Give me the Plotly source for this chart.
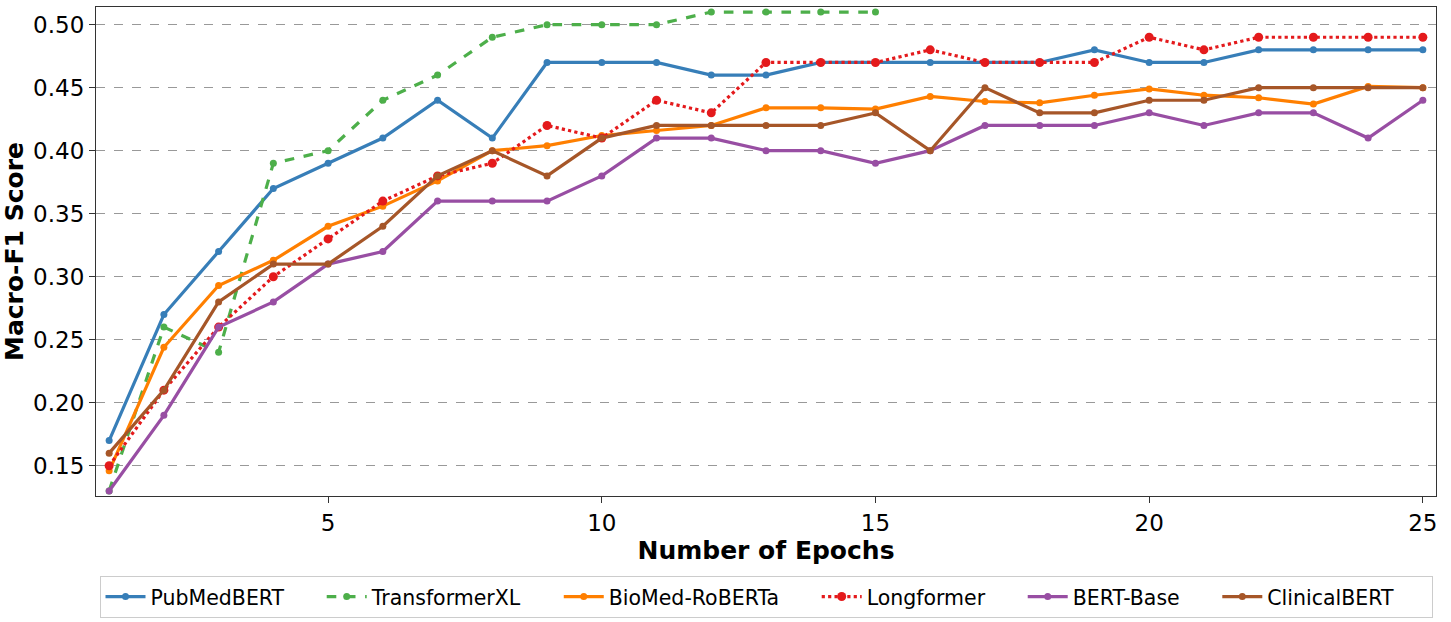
import plotly.graph_objects as go

epochs = list(range(1, 26))
pubmedbert = [0.17, 0.27, 0.32, 0.37, 0.39, 0.41, 0.44, 0.41, 0.47, 0.47, 0.47, 0.46, 0.46,
              0.47, 0.47, 0.47, 0.47, 0.47, 0.48, 0.47, 0.47, 0.48, 0.48, 0.48, 0.48]
transformerxl = [0.13, 0.26, 0.24, 0.39, 0.40, 0.44, 0.46, 0.49, 0.50, 0.50, 0.50, 0.51, 0.51,
                 0.51, 0.51]
biomed_roberta = [0.146, 0.244, 0.293, 0.313, 0.340, 0.356, 0.376, 0.400, 0.404, 0.412, 0.416,
                  0.420, 0.434, 0.434, 0.433, 0.443, 0.439, 0.438, 0.444, 0.449, 0.444, 0.442,
                  0.437, 0.451, 0.450]
longformer = [0.15, 0.21, 0.26, 0.30, 0.33, 0.36, 0.38, 0.39, 0.42, 0.41, 0.44, 0.43, 0.47,
              0.47, 0.47, 0.48, 0.47, 0.47, 0.47, 0.49, 0.48, 0.49, 0.49, 0.49, 0.49]
bert_base = [0.13, 0.19, 0.26, 0.28, 0.31, 0.32, 0.36, 0.36, 0.36, 0.38, 0.41, 0.41, 0.40,
             0.40, 0.39, 0.40, 0.42, 0.42, 0.42, 0.43, 0.42, 0.43, 0.43, 0.41, 0.44]
clinicalbert = [0.16, 0.21, 0.28, 0.31, 0.31, 0.34, 0.38, 0.40, 0.38, 0.41, 0.42, 0.42, 0.42,
                0.42, 0.43, 0.40, 0.45, 0.43, 0.43, 0.44, 0.44, 0.45, 0.45, 0.45, 0.45]

series = [
    ("PubMedBERT", pubmedbert, "#377eb8", "solid", 7),
    ("TransformerXL", transformerxl, "#4daf4a", "dash", 7),
    ("BioMed-RoBERTa", biomed_roberta, "#ff7f00", "solid", 7),
    ("Longformer", longformer, "#e41a1c", "dot", 9),
    ("BERT-Base", bert_base, "#984ea3", "solid", 7),
    ("ClinicalBERT", clinicalbert, "#a65628", "solid", 7),
]

PAD = "\u00a0" * 5
fig = go.Figure()
for name, vals, color, dash, msize in series:
    fig.add_trace(go.Scatter(
        x=epochs[:len(vals)], y=vals, name=name + PAD, mode="lines+markers",
        line=dict(color=color, width=3.2, dash=dash),
        marker=dict(color=color, size=msize, symbol="circle"),
    ))

font_family = "DejaVu Sans"
fig.update_layout(
    width=1451, height=622,
    margin=dict(l=96, r=15, t=7, b=126, autoexpand=False),
    plot_bgcolor="white", paper_bgcolor="white",
    font=dict(family=font_family, color="black"),
    showlegend=True,
    legend=dict(
        orientation="h", x=0.5, xanchor="center",
        y=-0.163, yanchor="top",
        font=dict(size=20.5, family=font_family, color="black"),
        bordercolor="#cccccc", borderwidth=1, bgcolor="white",
        itemwidth=40,
    ),
)
fig.update_xaxes(
    range=[0.76, 25.24], tickvals=[5, 10, 15, 20, 25],
    ticks="outside", ticklen=6, tickwidth=1.2, tickcolor="#333",
    tickfont=dict(size=23, family=font_family, color="black"),
    showgrid=False, zeroline=False, automargin=False,
    showline=True, linecolor="#333", linewidth=1.2, mirror=True,
    title=dict(text="<b>Number of Epochs</b>", font=dict(size=25, family=font_family, color="black"), standoff=3),
)
fig.update_yaxes(
    range=[0.126, 0.514], tickvals=[0.15, 0.20, 0.25, 0.30, 0.35, 0.40, 0.45, 0.50],
    tickformat=".2f",
    ticks="outside", ticklen=6, tickwidth=1.2, tickcolor="#333",
    tickfont=dict(size=23, family=font_family, color="black"),
    showgrid=True, gridcolor="#999999", griddash="dash", gridwidth=1,
    zeroline=False, automargin=False,
    showline=True, linecolor="#333", linewidth=1.2, mirror=True,
    title=dict(text="<b>Macro-F1 Score</b>", font=dict(size=25, family=font_family, color="black"), standoff=11),
)

fig.write_html("out.html", config={"displayModeBar": False},
               post_script="document.body.style.margin='0';")
